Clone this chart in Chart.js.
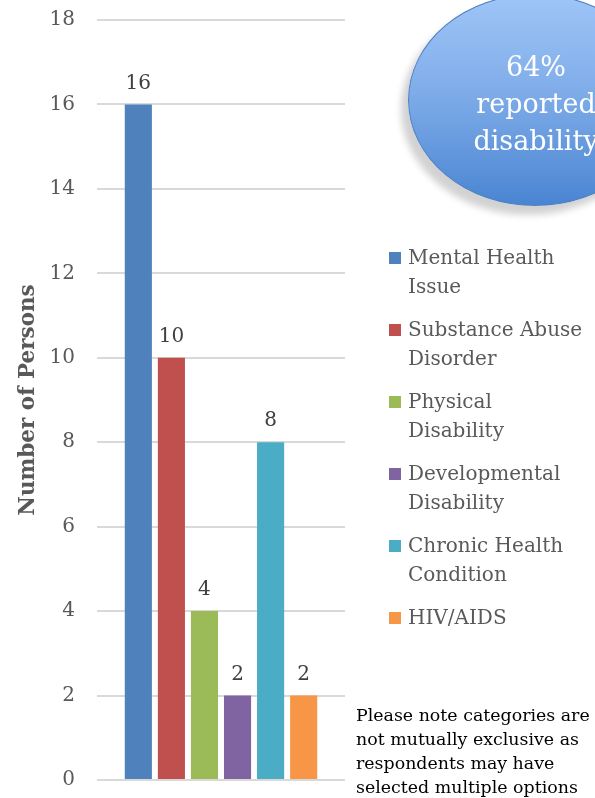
<!DOCTYPE html>
<html>
<head>
<meta charset="utf-8">
<script src="https://cdn.jsdelivr.net/npm/chart.js@4"></script>
<style>
  body { margin: 0; background: #fff; }
  #wrap { position: relative; width: 595px; height: 798px; overflow: hidden; font-family: "DejaVu Serif", serif; }
  #myChart { position: absolute; left: 0; top: 0; }
  #bubble {
    position: absolute; left: 408px; top: -6px; width: 252px; height: 210px; border-radius: 50%;
    background: linear-gradient(to bottom, #9fc5f8 0%, #80ade9 45%, #4a85d2 100%);
    border: 1.5px solid #4f7fc2; box-shadow: -7px 9px 7px rgba(0,0,0,0.18);
    color: #fff; text-align: center; font-size: 27px; line-height: 37px;
  }
  #bubble div { position: absolute; left: 0; width: 254px; top: 53px; }
  #legend { position: absolute; left: 389px; top: 243px; font-size: 20px; color: #595959; }
  .item { position: relative; padding-left: 19px; line-height: 28.5px; margin-bottom: 15px; width: 184px; }
  .box { position: absolute; left: 0; top: 9px; width: 12px; height: 12px; }
  #note { position: absolute; left: 356px; top: 703px; font-size: 17.4px; line-height: 24px; color: #000; white-space: nowrap; }
</style>
</head>
<body>
<div id="wrap">
  <canvas id="myChart" width="595" height="798"></canvas>
  <div id="bubble"><div>64%<br>reported<br>disability</div></div>
  <div id="legend"></div>
  <div id="note">Please note categories are<br>not mutually exclusive as<br>respondents may have<br>selected multiple options</div>
</div>
<script>
const categories = ["Mental Health Issue", "Substance Abuse Disorder", "Physical Disability",
  "Developmental Disability", "Chronic Health Condition", "HIV/AIDS"];
const persons = [16, 10, 4, 2, 8, 2];
const colors = ["#4f81bd", "#c0504d", "#9bbb59", "#8064a2", "#4bacc6", "#f79646"];
const yTicks = [0, 2, 4, 6, 8, 10, 12, 14, 16, 18];

const valueLabels = {
  id: "valueLabels",
  afterDatasetsDraw(chart) {
    const ctx = chart.ctx;
    ctx.save();
    ctx.font = "20px 'DejaVu Serif'";
    ctx.fillStyle = "#404040";
    ctx.textAlign = "center";
    ctx.textBaseline = "bottom";
    chart.data.datasets.forEach((ds, i) => {
      const bar = chart.getDatasetMeta(i).data[0];
      ctx.fillText(ds.data[0], bar.x, bar.y - 11);
    });
    ctx.restore();
  }
};

const chart = new Chart("myChart", {
  type: "bar",
  data: {
    labels: [""],
    datasets: categories.map((c, i) => ({
      label: c,
      data: [persons[i]],
      backgroundColor: colors[i],
      categoryPercentage: 0.8,
      barPercentage: 0.82,
    })),
  },
  options: {
    responsive: false,
    animation: false,
    layout: { autoPadding: false, padding: { top: 20, right: 250, bottom: 18, left: 0 } },
    plugins: { legend: { display: false }, tooltip: { enabled: false } },
    scales: {
      x: { display: false },
      y: {
        min: 0, max: 18,
        afterBuildTicks: (s) => { s.ticks = yTicks.map(v => ({ value: v })); },
        afterFit: (s) => { s.width = 97; s.paddingTop = 0; s.paddingBottom = 0; },
        ticks: { color: "#595959", font: { family: "DejaVu Serif", size: 20 }, padding: 22 },
        grid: { color: "#d9d9d9", lineWidth: 2, drawTicks: false },
        border: { display: false },
        title: { display: true, text: "Number of Persons", color: "#595959",
          font: { family: "DejaVu Serif", size: 21.5, weight: "bold" }, padding: { top: 16, bottom: 0 } },
      },
    },
  },
  plugins: [valueLabels],
});

const legend = document.getElementById("legend");
chart.data.datasets.forEach(ds => {
  const item = document.createElement("div");
  item.className = "item";
  item.innerHTML = '<span class="box" style="background:' + ds.backgroundColor + '"></span>' + ds.label;
  legend.appendChild(item);
});
</script>
</body>
</html>
